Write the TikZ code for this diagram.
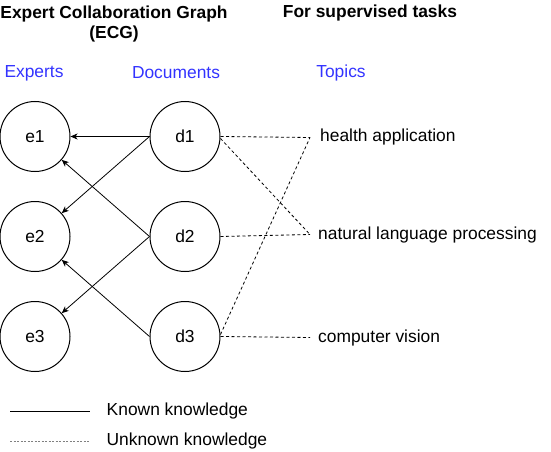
\documentclass[tikz,border=0pt]{standalone}
\usepackage{fontspec}
\setmainfont{Liberation Sans}
\usetikzlibrary{arrows.meta}
\definecolor{lblblue}{RGB}{51,51,255}
\newcommand{\fs}{\fontsize{17.4}{20}\selectfont}
\begin{document}
\begin{tikzpicture}[x=1pt,y=-1pt,
  ent/.style={draw,circle,minimum size=70pt,inner sep=0pt,line width=1pt,font=\fs},
  topic/.style={anchor=west,inner xsep=8pt,font=\fs},
  known/.style={line width=0.8pt,-{Stealth[length=7pt,width=6pt,inset=2pt]}},
  unknown/.style={line width=0.8pt,dash pattern=on 3pt off 2.5pt},
  head/.style={font=\bfseries\fs,align=center},
  col/.style={text=lblblue,font=\fs},
  leg/.style={anchor=west,font=\fs}]
\useasboundingbox (0,0) rectangle (551,452);
\node[head] (ecg) at (114,24) {Expert Collaboration Graph\\(ECG)};
\node[head] (sup) at (370,13) {For supervised tasks};
\node[col] (lex) at (34,73) {Experts};
\node[col] (ldoc) at (176,73) {Documents};
\node[col] (ltop) at (341,73) {Topics};
\node[ent] (e1) at (35,136.5) {e1};
\node[ent] (e2) at (35,236.5) {e2};
\node[ent] (e3) at (35,336.5) {e3};
\node[ent] (d1) at (185,136.5) {d1};
\node[ent] (d2) at (185,236.5) {d2};
\node[ent] (d3) at (185,336.5) {d3};
\node[topic,inner xsep=10pt] (t1) at (310,137.5) {health application};
\node[topic] (t2) at (310,234.5) {natural language processing};
\node[topic] (t3) at (310,337.5) {computer vision};
\draw[known] (d1.west) -- (e1);
\draw[known] (d1.west) -- (e2);
\draw[known] (d2.west) -- (e1);
\draw[known] (d2.west) -- (e3);
\draw[known] (d3.west) -- (e2);
\draw[unknown] (d1.east) -- (t1.west);
\draw[unknown] ([yshift=-2pt]d1.east) -- (t2.west);
\draw[unknown] (d2.east) -- (t2.west);
\draw[unknown] ([yshift=2pt]d3.east) -- (t1.west);
\draw[unknown] (d3.east) -- (t3.west);
\coordinate (ka) at (10,411);
\coordinate (kb) at (90,411);
\coordinate (ua) at (10,441);
\coordinate (ub) at (90,441);
\draw[line width=0.8pt] (ka) -- (kb) node[leg,pos=1,xshift=13pt] (lk) {Known knowledge};
\draw[line width=0.6pt,gray,dash pattern=on 2pt off 1.5pt] (ua) -- (ub) node[leg,pos=1,xshift=13pt,text=black] (lu) {Unknown knowledge};
\end{tikzpicture}
\end{document}
